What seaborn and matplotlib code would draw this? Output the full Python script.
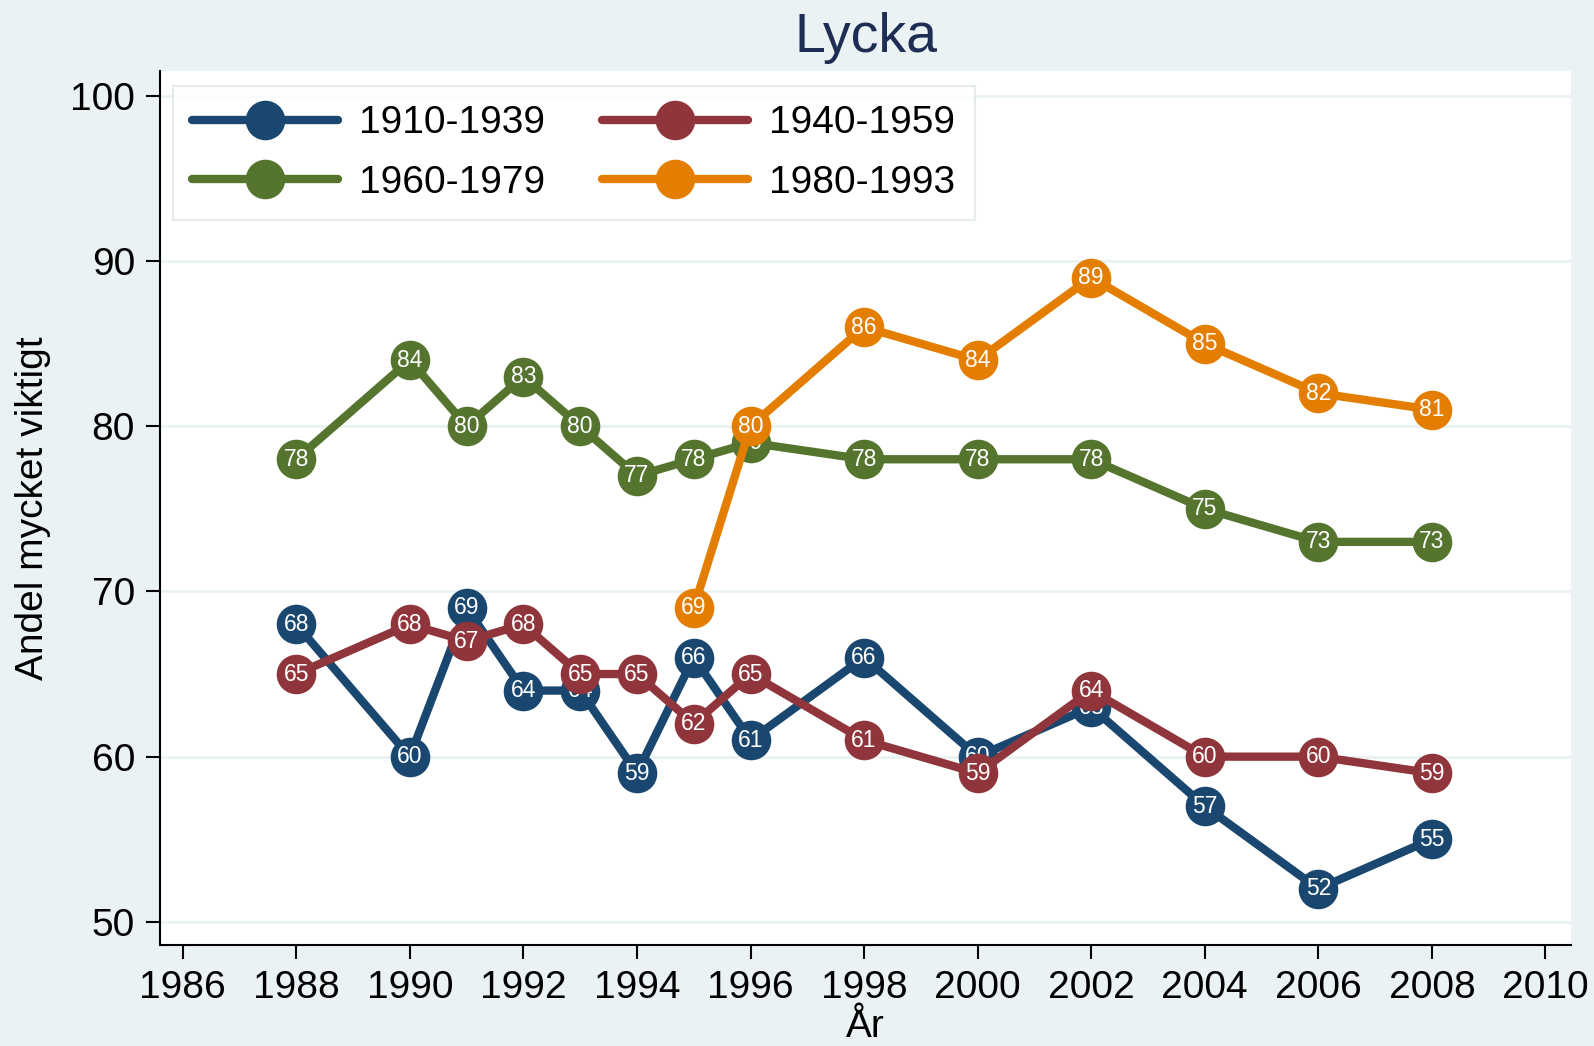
import pandas as pd
import numpy as np
import seaborn as sns
import matplotlib.pyplot as plt

# data
years = [1988, 1990, 1991, 1992, 1993, 1994, 1995, 1996, 1998, 2000, 2002, 2004, 2006, 2008]
c1910 = [68, 60, 69, 64, 64, 59, 66, 61, 66, 60, 63, 57, 52, 55]
c1940 = [65, 68, 67, 68, 65, 65, 62, 65, 61, 59, 64, 60, 60, 59]
c1960 = [78, 84, 80, 83, 80, 77, 78, 79, 78, 78, 78, 75, 73, 73]
years_1980 = [1995, 1996, 1998, 2000, 2002, 2004, 2006, 2008]
c1980 = [69, 80, 86, 84, 89, 85, 82, 81]

cohorts = ['1910-1939', '1940-1959', '1960-1979', '1980-1993']
colors = ['#1a476f', '#90353b', '#55752f', '#e37e00']
xticks = list(range(1986, 2011, 2))
yticks = [50, 60, 70, 80, 90, 100]

frames = []
for name, xs, ys in zip(cohorts, [years, years, years, years_1980], [c1910, c1940, c1960, c1980]):
    frames.append(pd.DataFrame({'year': xs, 'value': ys, 'cohort': name}))
df = pd.concat(frames, ignore_index=True)

sns.set_style('white')
plt.rcParams['font.family'] = ['Liberation Sans', 'DejaVu Sans']
plt.rcParams['text.color'] = 'black'
plt.rcParams['xtick.color'] = 'black'
plt.rcParams['ytick.color'] = 'black'
plt.rcParams['axes.labelcolor'] = 'black'

bg = '#eaf2f3'
fig = plt.figure(figsize=(15.94, 10.46), dpi=100, facecolor=bg)
ax = fig.add_axes([160/1594, (1046-945)/1046, (1571-160)/1594, (945-71)/1046])
ax.set_facecolor('white')

# each cohort drawn on top of the previous one, labels included
for i, (name, col) in enumerate(zip(cohorts, colors)):
    d = df[df['cohort'] == name]
    sns.lineplot(data=d, x='year', y='value', ax=ax, color=col, linewidth=6,
                 marker='o', markersize=28.5, markeredgewidth=0, label=name,
                 zorder=3 + 2 * i)
    for x, y in zip(d['year'], d['value']):
        ax.text(x, y, str(y), color='white', ha='center', va='center',
                fontsize=16.5, zorder=4 + 2 * i)

ax.set_xlim(1985.6, 2010.45)
ax.set_ylim(48.6, 101.5)
ax.set_xticks(xticks)
ax.set_yticks(yticks)
ax.tick_params(axis='both', labelsize=28, length=10, width=1.5, direction='out',
               left=True, bottom=True, pad=8)
ax.grid(axis='y', color=bg, linewidth=2)
ax.set_axisbelow(True)
for s in ['top', 'right']:
    ax.spines[s].set_visible(False)
for s in ['left', 'bottom']:
    ax.spines[s].set_color('black')
    ax.spines[s].set_linewidth(1.5)

ax.set_xlabel('År', fontsize=28, labelpad=2)
ax.set_ylabel('Andel mycket viktigt', fontsize=28, labelpad=14)
ax.set_title('Lycka', fontsize=40, color='#1e2d53', pad=14)

h, l = ax.get_legend_handles_labels()
order = [0, 2, 1, 3]
leg = ax.legend([h[k] for k in order], [l[k] for k in order], ncol=2, fontsize=28,
                loc='upper left', bbox_to_anchor=(0.009, 0.983), frameon=True,
                fancybox=False, edgecolor='#e0e8ea', handlelength=3.75,
                handletextpad=0.55, columnspacing=1.45, borderpad=0.5,
                labelspacing=0.6, borderaxespad=0)
leg.get_frame().set_linewidth(1.5)

fig.savefig('out.png', dpi=100, facecolor=bg)
